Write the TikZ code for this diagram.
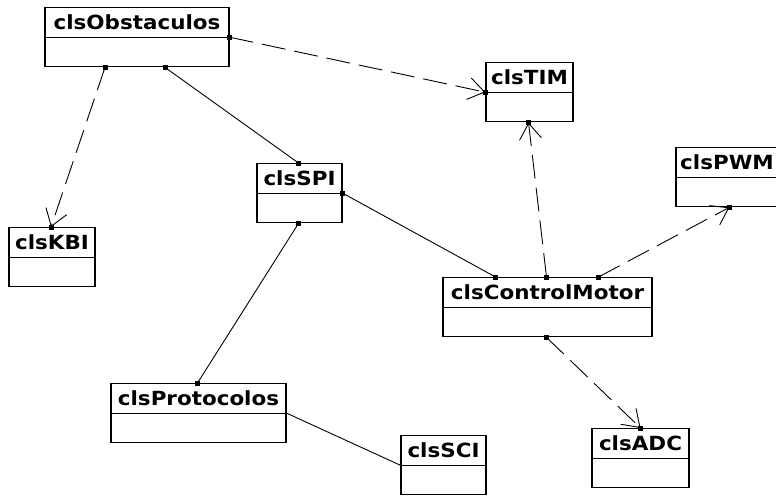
\documentclass[tikz,border=0pt]{standalone}
\usepackage{fontspec}
\newfontfamily\clsfont[FakeStretch=1.1]{DejaVu Sans}
\usetikzlibrary{arrows.meta}
\tikzset{
  cls/.style={draw=black, line width=1.4pt, fill=white, anchor=north,
    inner xsep=0pt, inner ysep=0pt, text height=22pt, text depth=37pt,
    minimum width=#1,
    font=\clsfont\bfseries\fontsize{19.5}{22}\selectfont,
    path picture={\draw[line width=1.4pt] (path picture bounding box.west) -- (path picture bounding box.east);}},
  assoc/.style={draw=black, line width=0.9pt},
  dep/.style={draw=black, line width=0.9pt, dash pattern=on 24pt off 9pt,
    -{Straight Barb[length=16pt,width=22pt,line width=0.9pt]}},
  sq/.style={fill=black, draw=none, minimum size=5pt, inner sep=0pt}
}
\begin{document}
\begin{tikzpicture}[x=1pt,y=1pt]
\useasboundingbox (0,0) rectangle (776,-498);
\begin{scope}
\clip (0,0) rectangle (776,-498);
\node[cls=184pt] (obst) at (137,-7) {clsObstaculos};
\node[cls=87pt] (tim) at (529.5,-62) {clsTIM};
\node[cls=102pt] (pwm) at (727,-147) {clsPWM};
\node[cls=86pt] (kbi) at (52,-227) {clsKBI};
\node[cls=85pt] (spi) at (299.5,-163) {clsSPI};
\node[cls=209pt] (cm) at (547.5,-277) {clsControlMotor};
\node[cls=97pt] (adc) at (640.5,-428) {clsADC};
\node[cls=175pt] (prot) at (198.5,-383) {clsProtocolos};
\node[cls=85pt] (sci) at (443.5,-435) {clsSCI};

\coordinate (a1) at (obst.east);
\coordinate (b1) at (tim.west);
\coordinate (a2) at ([xshift=-32pt]obst.south);
\coordinate (b2) at ([xshift=-1pt]kbi.north);
\coordinate (a3) at ([xshift=28pt]obst.south);
\coordinate (b3) at ([xshift=-1pt]spi.north);
\coordinate (a4) at (spi.east);
\coordinate (b4) at ([xshift=-52pt]cm.north);
\coordinate (a5) at ([xshift=-1pt]spi.south);
\coordinate (b5) at ([xshift=-1pt]prot.north);
\coordinate (a6) at (prot.east);
\coordinate (b6) at (sci.west);
\coordinate (a7) at ([xshift=-1pt]cm.north);
\coordinate (b7) at ([xshift=-1pt]tim.south);
\coordinate (a8) at ([xshift=51pt]cm.north);
\coordinate (b8) at ([xshift=54pt]pwm.south west);
\coordinate (a9) at ([xshift=-1pt]cm.south);
\coordinate (b9) at (adc.north);

\draw[dep] (a1) -- (b1);
\draw[dep] (a2) -- (b2);
\draw[assoc] (a3) -- (b3);
\draw[assoc] (a4) -- (b4);
\draw[assoc] (a5) -- (b5);
\draw[assoc] (a6) -- (b6);
\draw[dep] (a7) -- (b7);
\draw[dep] (a8) -- (b8);
\draw[dep] (a9) -- (b9);

\foreach \p in {a1,b1,a2,b2,a3,b3,a4,b4,a5,b5,a7,b7,a8,b8,a9,b9}
  \node[sq] at (\p) {};
\end{scope}
\end{tikzpicture}
\end{document}
